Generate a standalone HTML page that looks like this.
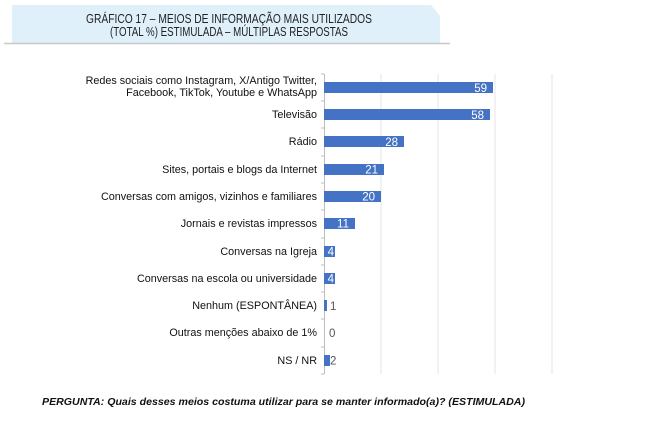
<!DOCTYPE html>
<html><head><meta charset="utf-8"><style>
html,body{margin:0;padding:0;background:#fff;}
svg{display:block;font-family:"Liberation Sans",Arial,sans-serif;}
</style></head><body>
<svg width="655" height="446" viewBox="0 0 655 446" xmlns="http://www.w3.org/2000/svg">
<polygon points="12,5 431,5 440,16 440,43 12,43" fill="#dff0fb"/>
<line x1="4" y1="43.5" x2="450" y2="43.5" stroke="#c8c8c8" stroke-width="1.5"/>
<text x="229" y="23" font-size="13" text-anchor="middle" fill="#222" textLength="286" lengthAdjust="spacingAndGlyphs">GRÁFICO 17 – MEIOS DE INFORMAÇÃO MAIS UTILIZADOS</text>
<text x="229" y="36" font-size="13" text-anchor="middle" fill="#222" textLength="238" lengthAdjust="spacingAndGlyphs">(TOTAL %) ESTIMULADA – MÚLTIPLAS RESPOSTAS</text>
<g stroke="#e4e4e4" stroke-width="1">
<line x1="381" y1="74" x2="381" y2="374"/>
<line x1="438" y1="74" x2="438" y2="374"/>
<line x1="495" y1="74" x2="495" y2="374"/>
<line x1="552" y1="74" x2="552" y2="374"/>
</g>
<g stroke="#bdbdbd" stroke-width="1">
<line x1="324.5" y1="74" x2="324.5" y2="374"/>
<line x1="321" y1="74" x2="324" y2="74"/><line x1="321" y1="101" x2="324" y2="101"/><line x1="321" y1="128" x2="324" y2="128"/><line x1="321" y1="156" x2="324" y2="156"/><line x1="321" y1="183" x2="324" y2="183"/><line x1="321" y1="210" x2="324" y2="210"/><line x1="321" y1="238" x2="324" y2="238"/><line x1="321" y1="265" x2="324" y2="265"/><line x1="321" y1="292" x2="324" y2="292"/><line x1="321" y1="319" x2="324" y2="319"/><line x1="321" y1="347" x2="324" y2="347"/><line x1="321" y1="374" x2="324" y2="374"/>
</g>
<g fill="#4472c4">
<rect x="324" y="82" width="169" height="11"/>
<rect x="324" y="109" width="166" height="11"/>
<rect x="324" y="136" width="80" height="11"/>
<rect x="324" y="164" width="60" height="11"/>
<rect x="324" y="191" width="57" height="11"/>
<rect x="324" y="218" width="31" height="11"/>
<rect x="324" y="246" width="11" height="11"/>
<rect x="324" y="273" width="11" height="11"/>
<rect x="324" y="300" width="3" height="11"/>
<rect x="324" y="355" width="6" height="11"/>
</g>
<g font-size="11.5" fill="#fff" text-anchor="end">
<text x="487" y="92">59</text>
<text x="484" y="119">58</text>
<text x="398" y="146">28</text>
<text x="378" y="173.5">21</text>
<text x="375" y="200.5">20</text>
<text x="349" y="227.5">11</text>
<text x="334" y="255.5">4</text>
<text x="334" y="282.5">4</text>
</g>
<g font-size="11.5" fill="#555">
<text x="330" y="310">1</text>
<text x="329" y="337">0</text>
<text x="330" y="364.5">2</text>
</g>
<g font-size="10.8" fill="#111" text-anchor="end">
<text x="317" y="84">Redes sociais como Instagram, X/Antigo Twitter,</text>
<text x="317" y="96">Facebook, TikTok, Youtube e WhatsApp</text>
<text x="317" y="118">Televisão</text>
<text x="317" y="145">Rádio</text>
<text x="317" y="173">Sites, portais e blogs da Internet</text>
<text x="317" y="200">Conversas com amigos, vizinhos e familiares</text>
<text x="317" y="227">Jornais e revistas impressos</text>
<text x="317" y="255">Conversas na Igreja</text>
<text x="317" y="282">Conversas na escola ou universidade</text>
<text x="317" y="309">Nenhum (ESPONTÂNEA)</text>
<text x="317" y="336">Outras menções abaixo de 1%</text>
<text x="317" y="364">NS / NR</text>
</g>
<text x="42" y="405" font-size="10" font-weight="bold" font-style="italic" fill="#111" textLength="483" lengthAdjust="spacingAndGlyphs">PERGUNTA: Quais desses meios costuma utilizar para se manter informado(a)? (ESTIMULADA)</text>
</svg>
</body></html>
